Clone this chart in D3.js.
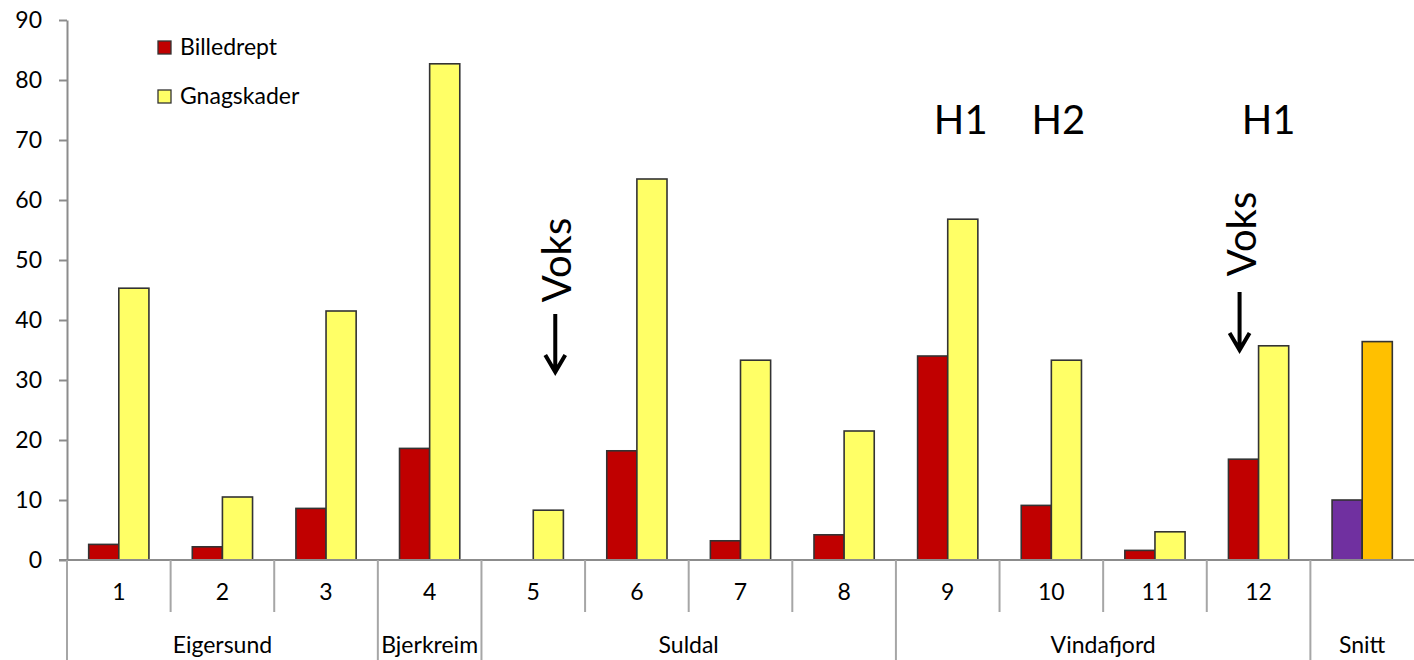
<!DOCTYPE html>
<html>
<head>
<meta charset="utf-8">
<script src="https://cdn.jsdelivr.net/npm/d3@7"></script>
<style>
  html, body { margin: 0; padding: 0; background: #fff; }
  svg { display: block; font-family: Lato, "Open Sans", sans-serif; }
</style>
</head>
<body>
<svg id="chart" width="1414" height="660"></svg>
<script>
// Site numbers (last column is the average, left unlabelled)
const sites = ["1", "2", "3", "4", "5", "6", "7", "8", "9", "10", "11", "12", ""];
// Municipality each site belongs to
const municipalities = ["Eigersund", "Eigersund", "Eigersund", "Bjerkreim",
  "Suldal", "Suldal", "Suldal", "Suldal",
  "Vindafjord", "Vindafjord", "Vindafjord", "Vindafjord", "Snitt"];
// Percent of plants killed by weevils
const billedrept = [2.6, 2.2, 8.6, 18.6, 0, 18.2, 3.2, 4.2, 34.0, 9.1, 1.6, 16.8, 10.0];
// Percent of plants with feeding damage
const gnagskader = [45.3, 10.5, 41.5, 82.7, 8.3, 63.5, 33.3, 21.5, 56.8, 33.3, 4.7, 35.7, 36.4];
const yTicks = [0, 10, 20, 30, 40, 50, 60, 70, 80, 90];
const seriesNames = ["Billedrept", "Gnagskader"];
// Treatment labels over individual sites (index into sites)
const headSites = [8, 9, 11];
const headTexts = ["H1", "H2", "H1"];
// Sites marked with "Voks"
const voksSites = [4, 11];

const svg = d3.select("#chart");
const plotLeft = 67, plotRight = 1414, plotTop = 20, plotBase = 560;

const ids = d3.range(sites.length);
const x = d3.scaleBand().domain(ids).range([plotLeft, plotRight]).padding(0);
const inner = d3.scaleBand().domain([0, 1]).range([0, x.bandwidth()])
  .paddingInner(0).paddingOuter(0.72);
const y = d3.scaleLinear().domain([0, 90]).range([plotBase, plotTop]);

const fillFor = (s, i) => {
  const avg = i === sites.length - 1;
  if (s === 0) return avg ? "#7030A0" : "#C00000";
  return avg ? "#FFC000" : "#FFFF66";
};

// Bars
const rows = ids.map(i => ({ i, vals: [billedrept[i], gnagskader[i]] }));
const g = svg.append("g").selectAll("g").data(rows).join("g")
  .attr("transform", d => `translate(${x(d.i)},0)`);
g.selectAll("rect").data(d => d.vals.map((v, s) => ({ v, s, i: d.i })).filter(e => e.v > 0))
  .join("rect")
  .attr("x", e => inner(e.s))
  .attr("width", inner.bandwidth())
  .attr("y", e => y(e.v))
  .attr("height", e => y(0) - y(e.v))
  .attr("fill", e => fillFor(e.s, e.i))
  .attr("stroke", "#333")
  .attr("stroke-width", 1.6);

// Y axis
const yAxis = svg.append("g").attr("transform", `translate(${plotLeft},0)`)
  .call(d3.axisLeft(y).tickValues(yTicks).tickSize(8).tickPadding(17).tickSizeOuter(0));
yAxis.select(".domain").attr("stroke", "#8c8c8c").attr("stroke-width", 2);
yAxis.selectAll(".tick line").attr("stroke", "#8c8c8c").attr("stroke-width", 2);
yAxis.selectAll("text").attr("font-size", 23).attr("fill", "#000")
  .attr("font-family", "Lato, sans-serif");

// X axis: site numbers
const xAxis = svg.append("g").attr("transform", `translate(0,${plotBase})`)
  .call(d3.axisBottom(x).tickFormat(i => sites[i]).tickSize(0).tickPadding(24).tickSizeOuter(0));
xAxis.select(".domain").remove();
xAxis.selectAll("text").attr("font-size", 23).attr("fill", "#000")
  .attr("font-family", "Lato, sans-serif");

// Baseline
svg.append("line").attr("x1", plotLeft - 8).attr("x2", plotRight)
  .attr("y1", y(0)).attr("y2", y(0))
  .attr("stroke", "#8c8c8c").attr("stroke-width", 2);

// Category dividers: short between sites, long between municipalities
const edges = ids.map(i => ({
  xpos: x(i),
  long: i === 0 || municipalities[i] !== municipalities[i - 1]
}));
svg.append("g").selectAll("line").data(edges).join("line")
  .attr("x1", d => d.xpos).attr("x2", d => d.xpos)
  .attr("y1", plotBase).attr("y2", d => d.long ? 660 : 612)
  .attr("stroke", "#a6a6a6").attr("stroke-width", 2);

// Municipality labels
const groups = [];
municipalities.forEach((m, i) => {
  const last = groups[groups.length - 1];
  if (last && last.name === m) last.end = i; else groups.push({ name: m, start: i, end: i });
});
svg.append("g").selectAll("text").data(groups).join("text")
  .attr("x", d => (x(d.start) + x(d.end) + x.bandwidth()) / 2)
  .attr("y", 653)
  .attr("text-anchor", "middle")
  .attr("font-size", 23)
  .text(d => d.name);

// Legend
const legend = svg.append("g").attr("transform", "translate(158,41)");
seriesNames.forEach((name, s) => {
  const row = legend.append("g").attr("transform", `translate(0,${s * 49})`);
  row.append("rect").attr("width", 13).attr("height", 13)
    .attr("fill", fillFor(s, 0)).attr("stroke", "#333").attr("stroke-width", 1.3);
  row.append("text").attr("x", 22).attr("y", 14).attr("font-size", 23).text(name);
});

// H1 / H2 labels
const headShift = [13, 7, 10];
svg.append("g").selectAll("text").data(headSites).join("text")
  .attr("x", (d, k) => x(d) + x.bandwidth() / 2 + headShift[k])
  .attr("y", 134)
  .attr("text-anchor", "middle")
  .attr("font-size", 40)
  .text((d, k) => headTexts[k]);

// "Voks" markers with downward arrows
const voksLayout = [
  { dx: 22, textY: 260, y0: 314, y1: 372 },
  { dx: -19, textY: 234, y0: 292, y1: 350 }
];
const voks = svg.append("g").selectAll("g").data(voksSites).join("g");
voks.append("text")
  .attr("transform", (d, k) => `translate(${x(d) + x.bandwidth() / 2 + voksLayout[k].dx + 16},${voksLayout[k].textY}) rotate(-90)`)
  .attr("text-anchor", "middle")
  .attr("font-size", 40)
  .text("Voks");
voks.append("path")
  .attr("d", (d, k) => {
    const L = voksLayout[k];
    const cx = x(d) + x.bandwidth() / 2 + L.dx;
    return `M${cx},${L.y0}V${L.y1 - 2}M${cx - 10},${L.y1 - 17}L${cx},${L.y1}L${cx + 10},${L.y1 - 17}`;
  })
  .attr("fill", "none").attr("stroke", "#000").attr("stroke-width", 4);
</script>
</body>
</html>
